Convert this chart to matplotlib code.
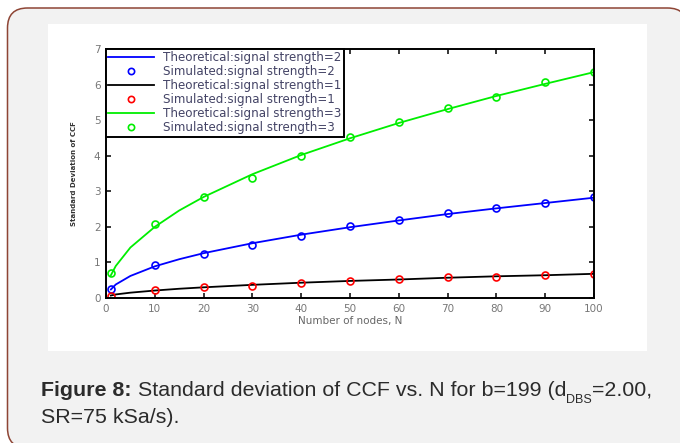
import matplotlib
matplotlib.use("Agg")
import matplotlib.pyplot as plt
from matplotlib.patches import FancyBboxPatch, Rectangle

# --- data ---
n_theory = [1, 2, 5, 10, 15, 20, 30, 40, 50, 60, 70, 80, 90, 100]
theory_s2 = [0.24, 0.38, 0.62, 0.89, 1.09, 1.26, 1.54, 1.78, 1.99, 2.18, 2.36, 2.52, 2.67, 2.82]
theory_s1 = [0.07, 0.10, 0.15, 0.21, 0.26, 0.30, 0.37, 0.43, 0.48, 0.52, 0.57, 0.61, 0.64, 0.68]
theory_s3 = [0.64, 0.90, 1.42, 2.00, 2.46, 2.84, 3.48, 4.02, 4.49, 4.92, 5.31, 5.68, 6.02, 6.35]

n_sim = [1, 10, 20, 30, 40, 50, 60, 70, 80, 90, 100]
sim_s2 = [0.25, 0.92, 1.25, 1.50, 1.75, 2.02, 2.20, 2.38, 2.52, 2.68, 2.83]
sim_s1 = [0.05, 0.22, 0.30, 0.35, 0.42, 0.47, 0.53, 0.58, 0.60, 0.66, 0.68]
sim_s3 = [0.70, 2.08, 2.85, 3.38, 3.98, 4.52, 4.95, 5.35, 5.65, 6.08, 6.35]

legend_labels = [
    "Theoretical:signal strength=2",
    "Simulated:signal strength=2",
    "Theoretical:signal strength=1",
    "Simulated:signal strength=1",
    "Theoretical:signal strength=3",
    "Simulated:signal strength=3",
]
x_ticks = list(range(0, 101, 10))
y_ticks = list(range(0, 8))

W, H = 680, 443
fig = plt.figure(figsize=(W / 100, H / 100), dpi=100)
fig.patch.set_facecolor("white")

# background layer in pixel coordinates
bg = fig.add_axes([0, 0, 1, 1])
bg.set_xlim(0, W)
bg.set_ylim(H, 0)
bg.axis("off")
bg.add_patch(FancyBboxPatch((7.5, 8), 680, 440,
                            boxstyle="round,pad=0,rounding_size=20",
                            fc="#f2f2f2", ec="#8e4535", lw=1.1))
bg.add_patch(Rectangle((48, 24), 599, 327, fc="white", ec="none"))

# caption
cap_font = "Liberation Sans"
cap_size = 15.4
cap_color = "#2b2b2b"
t1 = bg.text(41, 396, "Figure 8:", fontsize=cap_size, fontweight="bold",
             family=cap_font, color=cap_color, va="baseline")
t2 = bg.annotate(" Standard deviation of CCF vs. N for b=199 (d", xy=(1, 0),
                 xycoords=t1, va="bottom", fontsize=cap_size, family=cap_font,
                 color=cap_color)
t3 = bg.annotate("DBS", xy=(1, 0), xycoords=t2, xytext=(0, -4),
                 textcoords="offset points", va="bottom", fontsize=9,
                 family=cap_font, color=cap_color)
bg.annotate("=2.00,", xy=(1, 0), xycoords=(t3, t2), va="bottom",
            fontsize=cap_size, family=cap_font, color=cap_color)
bg.text(41, 423, "SR=75 kSa/s).", fontsize=cap_size, family=cap_font,
        color=cap_color, va="baseline")

# main plot
ax = fig.add_axes([106 / W, 1 - 298 / H, 488 / W, 249 / H])
ax.plot(n_theory, theory_s2, color="blue", lw=1.3, label=legend_labels[0])
ax.plot(n_sim, sim_s2, "o", mfc="none", mec="blue", ms=5, mew=1.2, label=legend_labels[1])
ax.plot(n_theory, theory_s1, color="black", lw=1.3, label=legend_labels[2])
ax.plot(n_sim, sim_s1, "o", mfc="none", mec="red", ms=5, mew=1.2, label=legend_labels[3])
ax.plot(n_theory, theory_s3, color="#00ee00", lw=1.3, label=legend_labels[4])
ax.plot(n_sim, sim_s3, "o", mfc="none", mec="#00ee00", ms=5, mew=1.2, label=legend_labels[5])

ax.set_xlim(0, 100)
ax.set_ylim(0, 7)
ax.set_xticks(x_ticks)
ax.set_yticks(y_ticks)
ax.tick_params(direction="in", length=3.5, width=1.1, top=True, right=True,
               labelsize=7.5, labelcolor="#777777", pad=4)
for sp in ax.spines.values():
    sp.set_linewidth(1.4)
ax.set_xlabel("Number of nodes, N", fontsize=7.5, color="#666666", labelpad=2)
ax.set_ylabel("Standard Deviation of CCF", fontsize=5, color="#333333",
              fontweight="bold", labelpad=12)

leg = ax.legend(loc="upper left", borderaxespad=0, fontsize=8.6,
                handlelength=3.8, handletextpad=0.8, labelspacing=0.08,
                borderpad=0.2, fancybox=False, framealpha=1, markerscale=0.9)
leg.get_frame().set_edgecolor("black")
leg.get_frame().set_linewidth(1.4)
for txt in leg.get_texts():
    txt.set_color("#444466")

fig.savefig("out.png", dpi=100)
